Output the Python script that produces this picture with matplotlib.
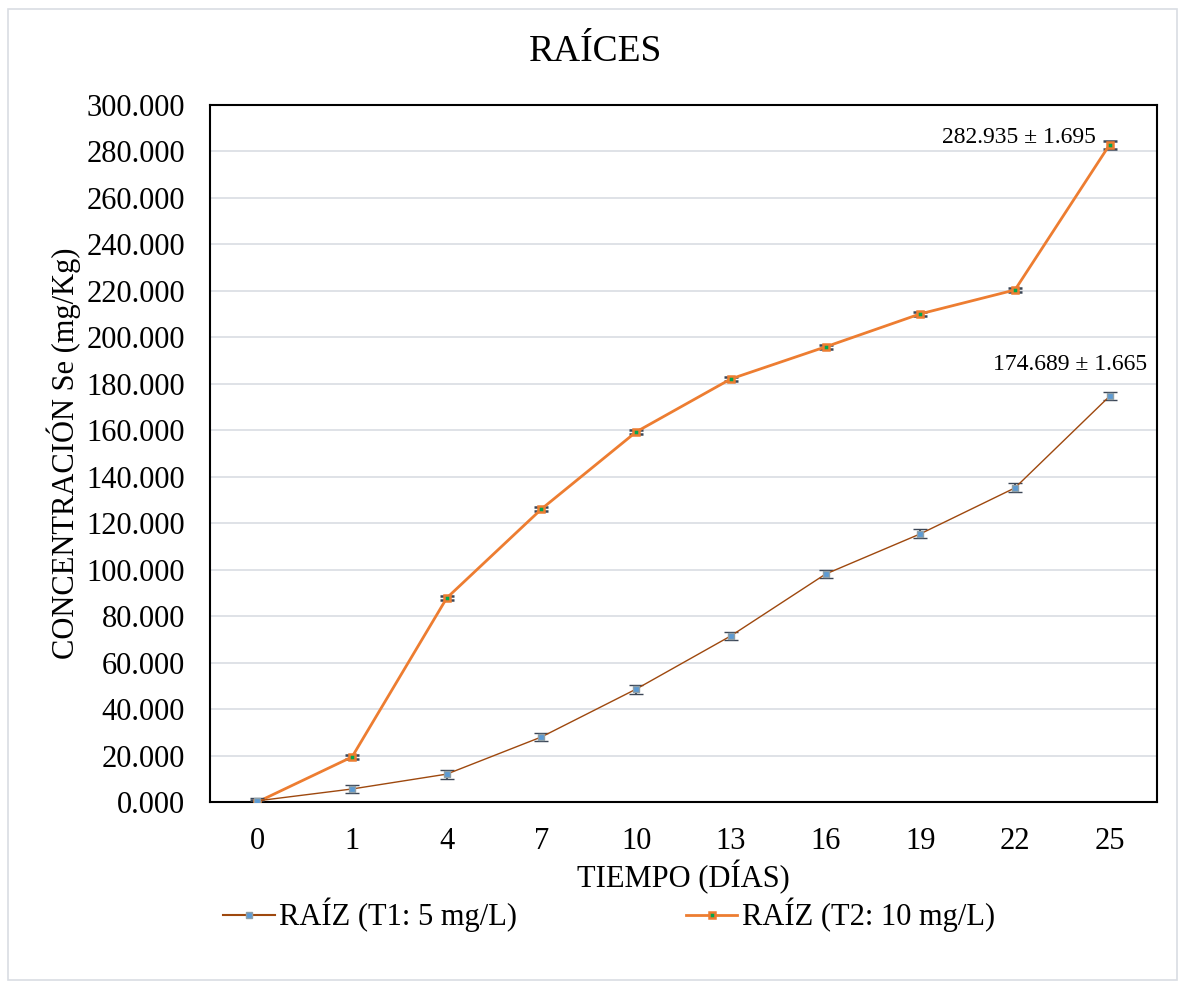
import numpy as np
import matplotlib.pyplot as plt
from matplotlib.patches import Rectangle
from matplotlib.lines import Line2D

plt.rcParams['font.family'] = ['Liberation Serif', 'DejaVu Serif']

dias = ['0', '1', '4', '7', '10', '13', '16', '19', '22', '25']
t1_raiz = [0.5, 5.6, 12.0, 28.0, 48.6, 71.5, 98.1, 115.4, 135.2, 174.689]
t1_err = [1.2, 1.9, 1.9, 1.8, 1.9, 1.8, 1.9, 1.9, 1.9, 1.665]
t2_raiz = [0.0, 19.4, 87.8, 126.1, 159.3, 182.1, 195.9, 210.1, 220.4, 282.935]
t2_err = [1.0, 1.0, 1.0, 1.0, 1.0, 1.0, 1.0, 1.0, 1.0, 1.695]

fig = plt.figure(figsize=(11.85, 9.89), dpi=100)
ax = fig.add_axes([210 / 1185, 1 - 802 / 989, (1157 - 210) / 1185, (802 - 105) / 989])

# marco exterior
fig.patches.append(Rectangle((8 / 1185, 1 - 980 / 989), 1169 / 1185, 971 / 989,
                             transform=fig.transFigure, fill=False,
                             edgecolor='#D9DDE3', linewidth=1.2))

x = np.arange(len(dias))
err_col = '#3B4656'

ax.errorbar(x, t2_raiz, yerr=t2_err, color='#ED7D31', linewidth=2,
            marker='s', markersize=5, markerfacecolor='#00A650', markeredgecolor='#ED7D31',
            markeredgewidth=1.8, ecolor=err_col, elinewidth=1.2, capsize=5, capthick=1.8,
            zorder=3)
ax.errorbar(x, t1_raiz, yerr=t1_err, color='#9E480E', linewidth=1,
            marker='s', markersize=5, markerfacecolor='#5B9BD5', markeredgecolor='#8FA0A8',
            markeredgewidth=1, ecolor=err_col, elinewidth=1.5, capsize=5, capthick=2,
            zorder=4)

ax.set_xlim(-0.5, len(dias) - 0.5)
ax.set_ylim(0, 300)
ax.set_xticks(x)
ax.set_xticklabels(dias)
ax.set_yticks(np.arange(0, 301, 20))
ax.set_yticklabels([f'{v:.3f}' for v in np.arange(0, 301, 20)])
ax.tick_params(axis='both', labelsize=22, length=0)
ax.tick_params(axis='y', pad=18)
ax.tick_params(axis='x', pad=18)
ax.grid(axis='y', color='#D9DDE3', linewidth=1.2)
ax.set_axisbelow(True)
for s in ax.spines.values():
    s.set_linewidth(1.5)
    s.set_color('black')

fig.text(0.503, 1 - 52 / 989, 'RAÍCES', fontsize=27, ha='center', va='center')
ax.set_xlabel('TIEMPO (DÍAS)', fontsize=22, labelpad=3)
ax.set_ylabel('CONCENTRACIÓN Se (mg/Kg)', fontsize=22, labelpad=4)

ax.annotate('282.935 ± 1.695', (x[-1], t2_raiz[-1]), xytext=(-10, 5),
            textcoords='offset points', ha='right', va='center', fontsize=17)
ax.annotate('174.689 ± 1.665', (x[-1], t1_raiz[-1]), xytext=(27, 23),
            textcoords='offset points', ha='right', va='center', fontsize=17)

h1 = Line2D([], [], color='#9E480E', linewidth=1.5, marker='s', markersize=5,
            markerfacecolor='#5B9BD5', markeredgecolor='#8FA0A8')
h2 = Line2D([], [], color='#ED7D31', linewidth=2, marker='s', markersize=5,
            markerfacecolor='#00A650', markeredgecolor='#ED7D31', markeredgewidth=1.8)
fig.legend([h1, h2], ['RAÍZ (T1: 5 mg/L)', 'RAÍZ (T2: 10 mg/L)'], loc='center',
           bbox_to_anchor=(0.514, 1 - 915 / 989), ncol=2, frameon=False, fontsize=22,
           columnspacing=5.5, handlelength=1.7, handletextpad=0.16)

fig.savefig('out.png', dpi=100)
